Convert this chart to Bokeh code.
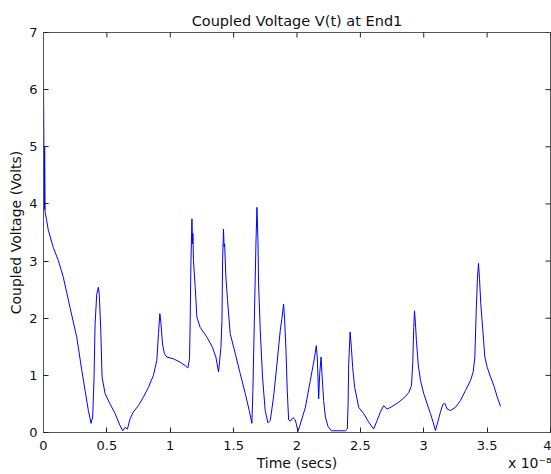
from bokeh.plotting import figure
from bokeh.models import Range1d, FixedTicker, NumeralTickFormatter, LinearAxis
from bokeh.embed import file_html
from bokeh.resources import INLINE

title_text = "Coupled Voltage V(t) at End1"
x_label = "Time (secs)"
y_label = "Coupled Voltage (Volts)"
x_ticks = [0, 0.5, 1, 1.5, 2, 2.5, 3, 3.5, 4]
y_ticks = [0, 1, 2, 3, 4, 5, 6, 7]
x_min, x_max = 0, 4
y_min, y_max = 0, 7
x_exponent = "x 10\u207b\u2078"   # axis multiplier, x 10^-8
x_label_pos = 2.0                  # centre of the axis title
x_exponent_pos = 3.845             # where the multiplier sits

# time in units of 1e-8 s
time_e8 = [
    0.0, 0.003, 0.006, 0.009, 0.013, 0.025, 0.038, 0.077, 0.117, 0.156,
    0.209, 0.262, 0.302, 0.328, 0.354, 0.375, 0.388, 0.399, 0.407, 0.420,
    0.433, 0.440, 0.452, 0.462, 0.486, 0.525, 0.565, 0.604, 0.625, 0.644,
    0.662, 0.683, 0.709, 0.749, 0.788, 0.828, 0.867, 0.894, 0.907, 0.918,
    0.926, 0.939, 0.954, 0.973, 1.025, 1.078, 1.118, 1.139, 1.152, 1.157,
    1.163, 1.171, 1.176, 1.179, 1.183, 1.197, 1.210, 1.236, 1.289, 1.333,
    1.360, 1.381, 1.400, 1.408, 1.413, 1.420, 1.425, 1.429, 1.439, 1.452,
    1.473, 1.513, 1.552, 1.592, 1.623, 1.644, 1.652, 1.665, 1.676, 1.684,
    1.692, 1.697, 1.710, 1.728, 1.749, 1.771, 1.789, 1.815, 1.842, 1.868,
    1.881, 1.894, 1.902, 1.913, 1.923, 1.934, 1.947, 1.968, 1.987, 2.008,
    2.020, 2.066, 2.105, 2.139, 2.152, 2.160, 2.171, 2.179, 2.190, 2.197,
    2.210, 2.224, 2.245, 2.271, 2.382, 2.397, 2.403, 2.408, 2.419, 2.429,
    2.439, 2.455, 2.487, 2.526, 2.566, 2.605, 2.632, 2.658, 2.684, 2.711,
    2.750, 2.803, 2.855, 2.882, 2.903, 2.913, 2.921, 2.927, 2.934, 2.942,
    2.956, 2.974, 3.000, 3.027, 3.053, 3.074, 3.092, 3.114, 3.132, 3.150,
    3.166, 3.185, 3.211, 3.250, 3.290, 3.329, 3.369, 3.390, 3.403, 3.414,
    3.424, 3.432, 3.440, 3.450, 3.466, 3.482, 3.501, 3.527, 3.553, 3.580, 3.606,
]

volts = [
    6.25, 5.05, 3.90, 5.00, 3.85, 3.71, 3.54, 3.24, 3.01, 2.72,
    2.19, 1.67, 1.09, 0.735, 0.385, 0.16, 0.27, 0.97, 1.90, 2.42,
    2.54, 2.42, 1.79, 0.97, 0.68, 0.50, 0.33, 0.12, 0.03, 0.09,
    0.06, 0.24, 0.36, 0.47, 0.62, 0.79, 1.00, 1.26, 1.73, 2.08,
    1.93, 1.55, 1.38, 1.32, 1.29, 1.23, 1.17, 1.13, 1.29, 1.90,
    2.95, 3.74, 3.30, 3.48, 3.01, 2.54, 2.02, 1.84, 1.67, 1.49,
    1.32, 1.06, 1.49, 1.96, 3.01, 3.56, 3.25, 3.30, 2.72, 2.31,
    1.73, 1.38, 1.03, 0.68, 0.385, 0.16, 0.735, 2.13, 3.30, 3.94,
    3.36, 2.60, 1.79, 0.97, 0.385, 0.17, 0.21, 0.62, 1.20, 1.79,
    1.99, 2.25, 1.99, 1.44, 0.735, 0.22, 0.20, 0.26, 0.22, 0.02,
    0.10, 0.44, 0.91, 1.32, 1.52, 1.32, 0.59, 1.03, 1.32, 1.03,
    0.56, 0.27, 0.105, 0.03, 0.03, 0.06, 0.50, 1.20, 1.76, 1.49,
    1.14, 0.79, 0.44, 0.33, 0.18, 0.06, 0.21, 0.36, 0.47, 0.41,
    0.455, 0.53, 0.63, 0.70, 0.82, 1.20, 1.84, 2.13, 1.93, 1.61,
    1.20, 0.91, 0.68, 0.50, 0.33, 0.18, 0.035, 0.21, 0.36, 0.49,
    0.51, 0.41, 0.385, 0.44, 0.56, 0.735, 0.91, 1.06, 1.32, 2.13,
    2.72, 2.96, 2.69, 2.25, 1.79, 1.32, 1.14, 0.97, 0.82, 0.62, 0.455,
]

FONT = "DejaVu Sans"
AXIS_COLOR = "#555555"
TEXT_COLOR = "#111111"

p = figure(width=551, height=474, output_backend="svg", toolbar_location=None,
           x_range=Range1d(x_min, x_max), y_range=Range1d(y_min, y_max),
           title=title_text,
           min_border_left=43, min_border_right=1, min_border_top=32,
           min_border_bottom=42)

p.title.text_font = FONT
p.title.text_font_size = "14.5px"
p.title.text_font_style = "normal"
p.title.text_color = TEXT_COLOR
p.title.align = "center"
p.title.standoff = 7

p.xgrid.visible = False
p.ygrid.visible = False
p.outline_line_color = AXIS_COLOR
p.outline_line_alpha = 1.0
p.background_fill_color = "white"
p.border_fill_color = "white"


def style_axis(ax, ticks):
    ax.ticker = FixedTicker(ticks=ticks)
    ax.major_tick_in = 5
    ax.major_tick_out = 0
    ax.minor_tick_line_color = None
    ax.axis_line_color = AXIS_COLOR
    ax.major_tick_line_color = "#222222"
    ax.formatter = NumeralTickFormatter(format="0.[0]")
    ax.major_label_text_font = FONT
    ax.major_label_text_font_size = "13px"
    ax.major_label_text_color = TEXT_COLOR
    ax.axis_label_text_font = FONT
    ax.axis_label_text_font_size = "14px"
    ax.axis_label_text_font_style = "normal"
    ax.axis_label_text_color = TEXT_COLOR


style_axis(p.xaxis[0], x_ticks)
style_axis(p.yaxis[0], y_ticks)
p.yaxis[0].axis_label = y_label
p.xaxis[0].major_label_standoff = 8
p.yaxis[0].major_label_standoff = 6
p.yaxis[0].axis_label_standoff = 2

# second row under the x axis: axis title in the middle, multiplier at the right
title_row = LinearAxis(
    ticker=FixedTicker(ticks=[x_label_pos, x_exponent_pos]),
    major_label_overrides={x_label_pos: x_label, x_exponent_pos: x_exponent},
)
title_row.axis_line_color = None
title_row.major_tick_line_color = None
title_row.minor_tick_line_color = None
title_row.major_tick_in = 0
title_row.major_tick_out = 0
title_row.major_label_standoff = 2
title_row.major_label_text_font = FONT
title_row.major_label_text_font_size = "14px"
title_row.major_label_text_color = TEXT_COLOR
p.add_layout(title_row, "below")

# box ticks on the top and right edges (MATLAB "box on"); half of each dash is
# clipped by the frame, leaving an inward tick
p.scatter(x_ticks, [y_max] * len(x_ticks), marker="dash", size=10, angle=1.5708,
          line_color="#222222", line_width=1)
p.scatter([x_max] * len(y_ticks), y_ticks, marker="dash", size=10,
          line_color="#222222", line_width=1)

p.line(time_e8, volts, line_color="#0000ff", line_width=1)

open("out.html", "w").write(file_html(p, INLINE))
